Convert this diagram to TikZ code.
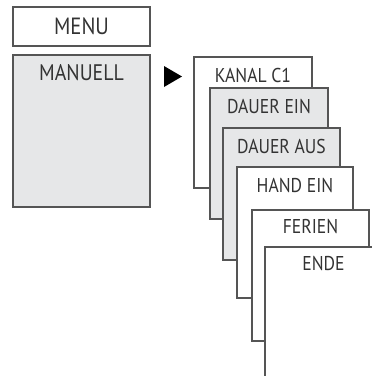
\documentclass[tikz,border=0pt]{standalone}
\usepackage{fontspec}
\setmainfont[FakeStretch=0.88]{PT Sans}
\usetikzlibrary{calc}
\definecolor{boxgray}{HTML}{E6E7E8}
\definecolor{edge}{HTML}{555555}
\definecolor{txt}{HTML}{333333}
\tikzset{
  box/.style={draw=edge, line width=1.1pt, rectangle, inner sep=0pt, outer sep=0pt, anchor=north west},
  card/.style={box, fill=white},
  gcard/.style={box, fill=boxgray},
  lbl/.style={text=txt, font=\fontsize{20}{22}\selectfont, anchor=base, inner sep=0pt},
  biglbl/.style={text=txt, font=\fontsize{23.5}{25}\selectfont, anchor=base, inner sep=0pt},
}
\begin{document}
\begin{tikzpicture}[x=1pt,y=-1pt]
\useasboundingbox (0,0) rectangle (372,376);
\begin{scope}
\clip (0,0) rectangle (372,376);
% left boxes
\node[card, minimum width=137pt, minimum height=39pt] (menu) at (13,7) {};
\node[biglbl] (menut) at ($(menu.north)+(0,27)$) {MENU};
\node[gcard, minimum width=137pt, minimum height=152pt] (man) at (13,55) {};
\node[biglbl, font=\fontsize{22.5}{24}\selectfont] (mant) at ($(man.north)+(0,25)$) {MANUELL};
% arrow
\fill[black] (164,66) -- (182,76.5) -- (164,87) -- cycle;
% cards
\node[card, minimum width=118pt, minimum height=131pt] (c1) at (194,57) {};
\node[lbl] at ($(c1.north)+(0,25)$) {KANAL C1};
\node[gcard, minimum width=118pt, minimum height=131pt] (c2) at (210,88) {};
\node[lbl] at ($(c2.north)+(0,25)$) {DAUER EIN};
\node[gcard, minimum width=117pt, minimum height=132pt] (c3) at (223,128) {};
\node[lbl] at ($(c3.north)+(0,25)$) {DAUER AUS};
\node[card, minimum width=116pt, minimum height=131pt] (c4) at (237,167) {};
\node[lbl] at ($(c4.north)+(0,25)$) {HAND EIN};
\node[card, minimum width=117pt, minimum height=131pt] (c5) at (252,210) {};
\node[lbl] at ($(c5.north)+(0,23)$) {FERIEN};
\node[card, minimum width=117pt, minimum height=150pt] (c6) at (265,247) {};
\node[lbl] at ($(c6.north)+(0,23)$) {ENDE};
\end{scope}
\end{tikzpicture}
\end{document}
